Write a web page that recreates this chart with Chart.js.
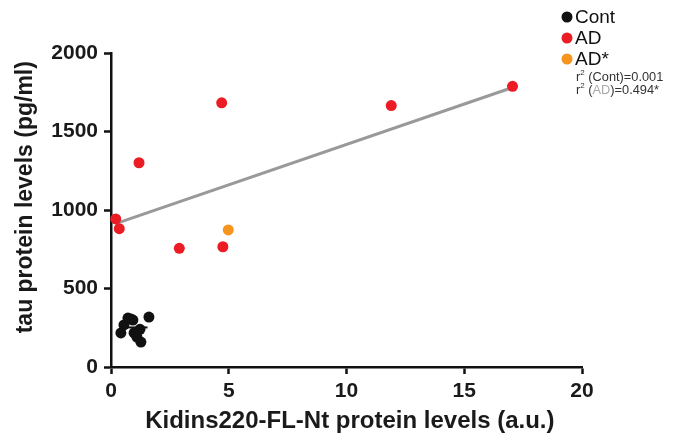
<!DOCTYPE html>
<html>
<head>
<meta charset="utf-8">
<script src="https://cdn.jsdelivr.net/npm/chart.js@4/dist/chart.umd.min.js"></script>
<style>
  html, body { margin: 0; padding: 0; background: #fff; }
  #wrap { width: 681px; height: 437px; position: relative; }
</style>
</head>
<body>
<div id="wrap"><canvas id="chart"></canvas></div>
<script>
// values
var contX = [0.42, 0.55, 0.72, 0.93, 1.61, 0.98, 1.23, 1.10, 1.27, 0.85];
var contY = [217, 268, 312, 299, 318, 217, 240, 191, 159, 305];
var adX = [0.20, 0.35, 1.19, 2.90, 4.70, 4.75, 11.90, 17.05];
var adY = [943, 881, 1301, 756, 1683, 766, 1665, 1788];
var adStarX = [4.98];
var adStarY = [873];
// fitted lines (ends)
var adFitX = [0.20, 17.05];
var adFitY = [913, 1780];
var contFitX = [0.38, 1.55];
var contFitY = [252, 252];
var xTicks = [0, 5, 10, 15, 20];
var yTicks = [0, 500, 1000, 1500, 2000];

var black = '#111111';
var red = '#ec1c24';
var orange = '#f7941d';
var grey = '#999999';
var fam = '"Liberation Sans", Arial, sans-serif';

function pts(xs, ys) {
  return xs.map(function (x, i) { return { x: x, y: ys[i] }; });
}

// legend in the top right corner, plus the r2 notes
var cornerLegend = {
  id: 'cornerLegend',
  afterDraw: function (chart) {
    var ctx = chart.ctx;
    var items = chart.data.datasets.filter(function (d) { return d.pointRadius > 0; });
    ctx.save();
    ctx.textBaseline = 'middle';
    ctx.textAlign = 'left';
    ctx.font = '19px ' + fam;
    items.forEach(function (d, i) {
      var y = 17 + i * 21;
      ctx.fillStyle = d.backgroundColor;
      ctx.beginPath();
      ctx.arc(567, y, 5.5, 0, Math.PI * 2);
      ctx.fill();
      ctx.fillStyle = '#111';
      ctx.fillText(d.label, 575, y + 1);
    });
    var parts = [
      [['r', '#333'], ['2', '#333', true], [' (Cont)=0.001', '#333']],
      [['r', '#333'], ['2', '#333', true], [' (', '#333'], ['AD', '#aaaaaa'], [')=0.494*', '#333']]
    ];
    parts.forEach(function (line, j) {
      var x = 576, y = 77 + j * 13;
      line.forEach(function (p) {
        ctx.font = (p[2] ? '8px ' : '12.8px ') + fam;
        ctx.fillStyle = p[1];
        ctx.fillText(p[0], x, p[2] ? y - 4 : y);
        x += ctx.measureText(p[0]).width;
      });
    });
    ctx.restore();
  }
};

var tickFont = { family: fam, size: 21, weight: 'bold' };

new Chart(document.getElementById('chart'), {
  type: 'scatter',
  data: {
    datasets: [
      { label: 'Cont', data: pts(contX, contY), backgroundColor: black, borderWidth: 0, pointRadius: 5.5, order: 1 },
      { label: 'AD', data: pts(adX, adY), backgroundColor: red, borderWidth: 0, pointRadius: 5.5, order: 1 },
      { label: 'AD*', data: pts(adStarX, adStarY), backgroundColor: orange, borderWidth: 0, pointRadius: 5.5, order: 1 },
      { label: 'AD fit', data: pts(adFitX, adFitY), showLine: true, borderColor: grey, borderWidth: 3, pointRadius: 0, order: 2 },
      { label: 'Cont fit', data: pts(contFitX, contFitY), showLine: true, borderColor: black, borderWidth: 2, pointRadius: 0, order: 0 }
    ]
  },
  options: {
    responsive: true,
    maintainAspectRatio: false,
    animation: false,
    clip: false,
    layout: { padding: { top: 53, right: 99, left: 0, bottom: 0 } },
    plugins: { legend: { display: false }, tooltip: { enabled: false } },
    scales: {
      x: {
        type: 'linear',
        min: 0, max: 20,
        afterFit: function (s) { s.height = 70; },
        afterBuildTicks: function (s) { s.ticks = xTicks.map(function (v) { return { value: v }; }); },
        border: { color: '#111', width: 2.5 },
        grid: { drawOnChartArea: false, drawTicks: true, tickLength: 7, tickWidth: 2.5, tickColor: '#111' },
        ticks: { color: '#1a1a1a', font: tickFont, padding: 5, maxRotation: 0, callback: function (v) { return String(v); } },
        title: {
          display: true,
          text: ' Kidins220-FL-Nt protein levels (a.u.)',
          color: '#1a1a1a',
          font: { family: fam, size: 24, weight: 'bold' },
          padding: { top: 0, bottom: 1 }
        }
      },
      y: {
        type: 'linear',
        min: 0, max: 2000,
        afterFit: function (s) { s.width = 111; },
        afterBuildTicks: function (s) { s.ticks = yTicks.map(function (v) { return { value: v }; }); },
        border: { color: '#111', width: 2.5 },
        grid: { drawOnChartArea: false, drawTicks: true, tickLength: 7, tickWidth: 2.5, tickColor: '#111' },
        ticks: { color: '#1a1a1a', font: tickFont, padding: 6, callback: function (v) { return String(v); } },
        title: {
          display: true,
          text: '    tau protein levels (pg/ml)',
          color: '#1a1a1a',
          font: { family: fam, size: 23, weight: 'bold' },
          padding: { top: 12, bottom: 0 }
        }
      }
    }
  },
  plugins: [cornerLegend]
});
</script>
</body>
</html>
